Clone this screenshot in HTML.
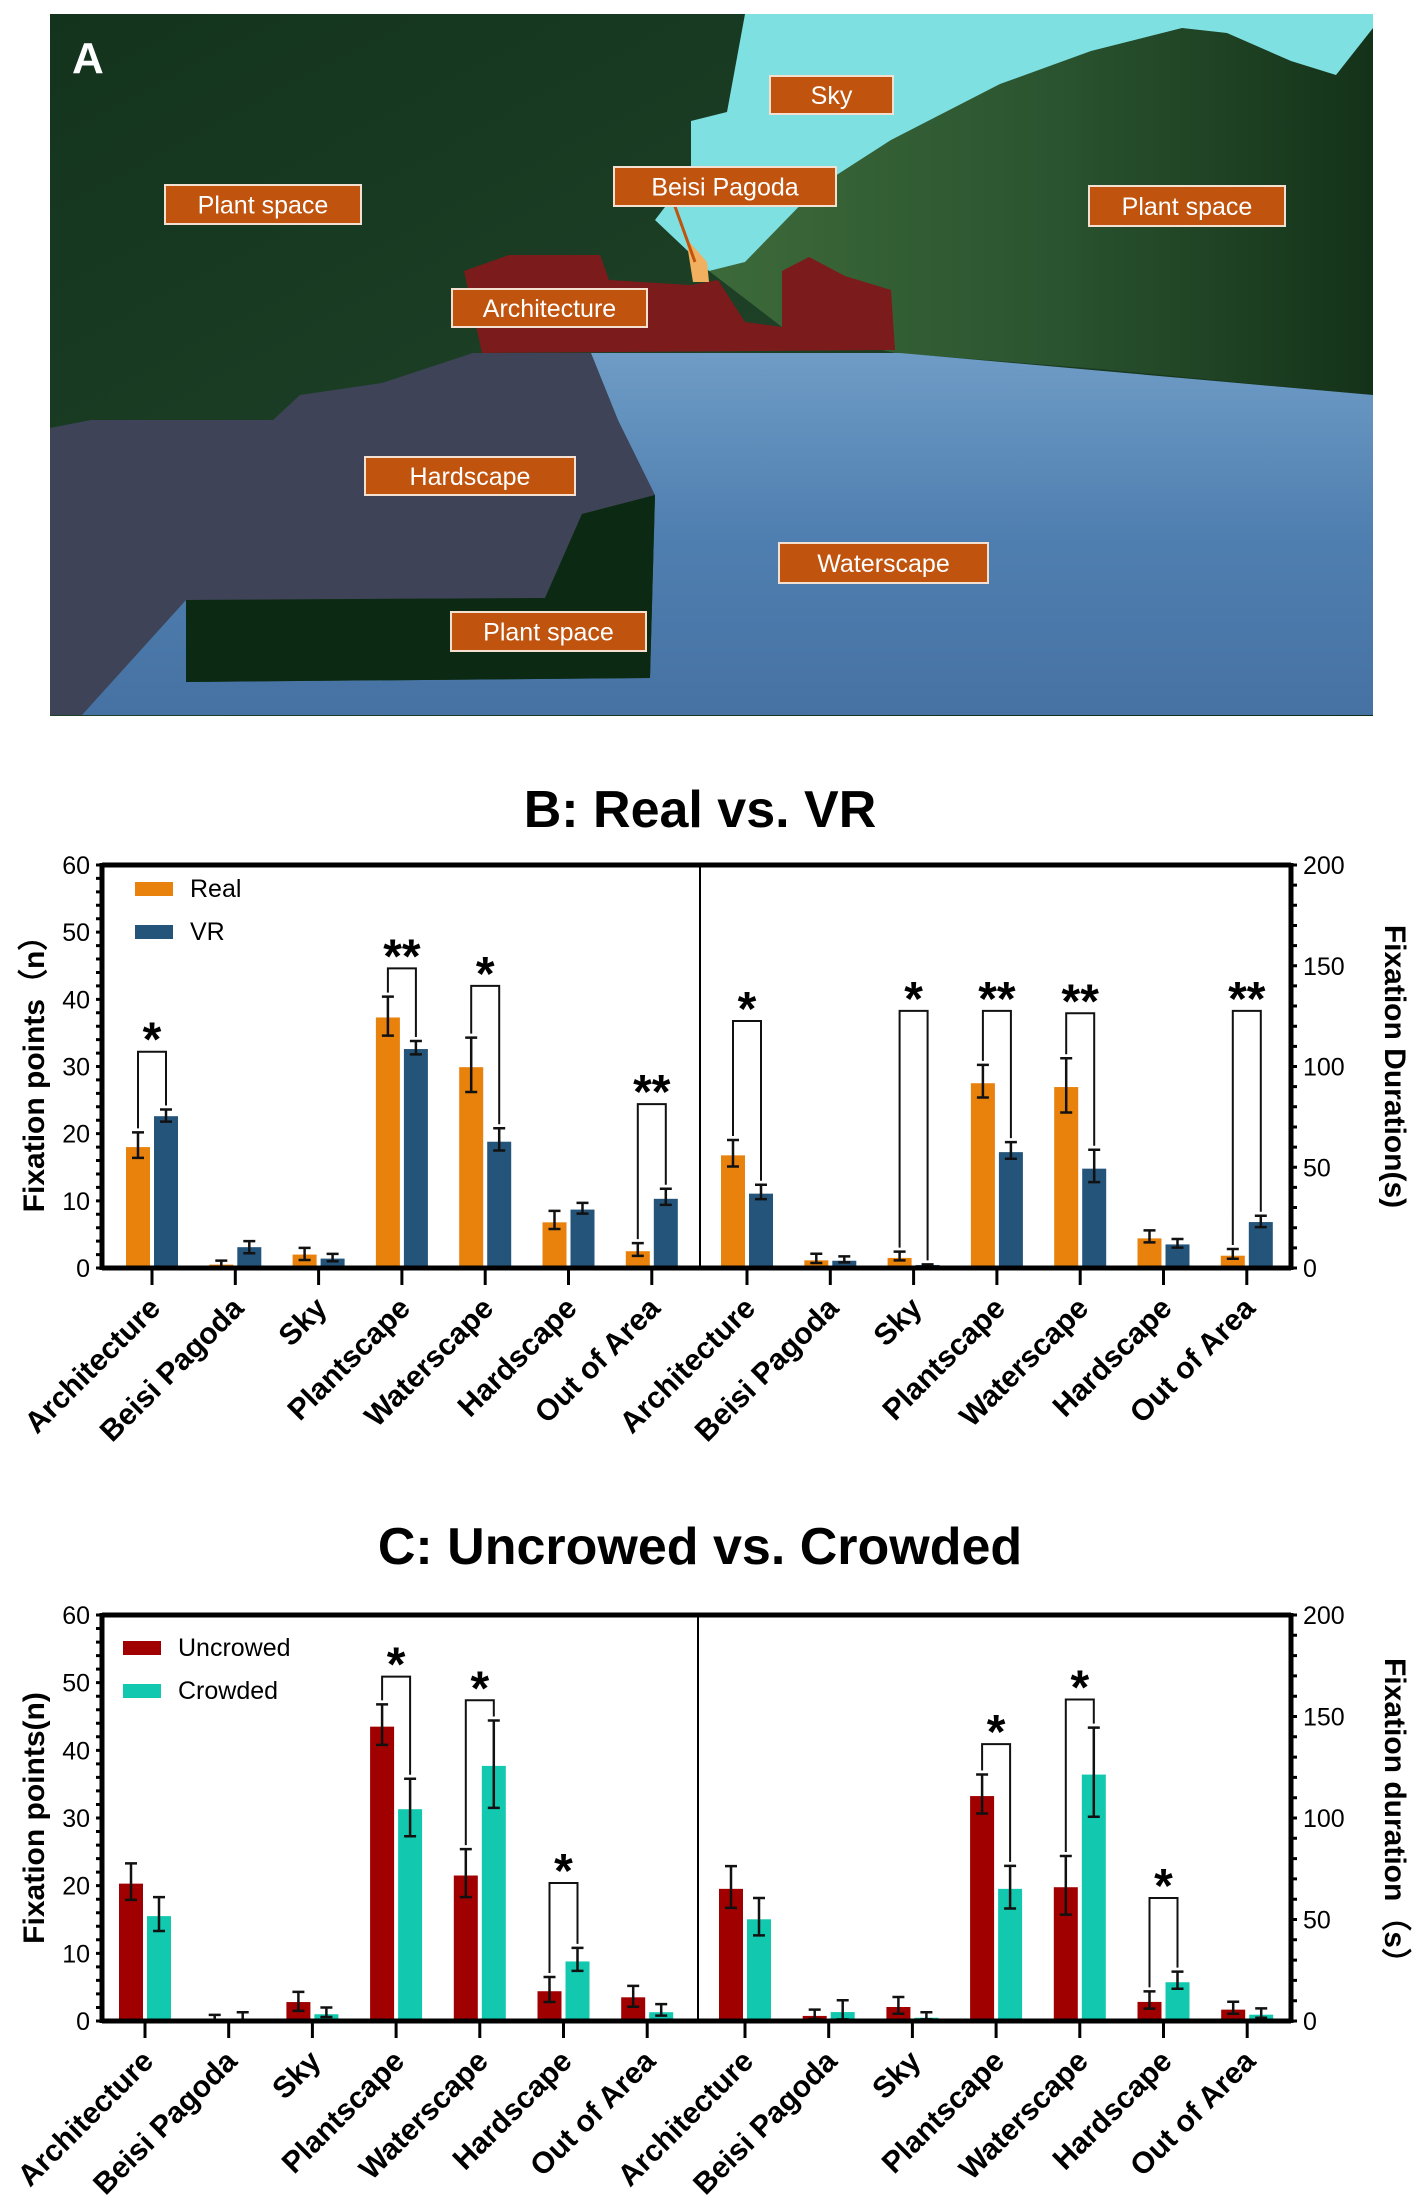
<!DOCTYPE html>
<html><head><meta charset="utf-8">
<style>
html,body{margin:0;padding:0;background:#fff;}
svg{display:block;font-family:"Liberation Sans",Arial,sans-serif;}
</style></head>
<body>
<svg id="fig" width="1418" height="2212" viewBox="0 0 1418 2212" xmlns="http://www.w3.org/2000/svg">
<defs>
<linearGradient id="leftTrees" x1="0" y1="0" x2="1" y2="1">
<stop offset="0" stop-color="#13331d"/><stop offset="0.5" stop-color="#1d4026"/><stop offset="1" stop-color="#0f2c16"/>
</linearGradient>
<linearGradient id="rightTrees" x1="0" y1="0" x2="1" y2="0">
<stop offset="0" stop-color="#3d6a3a"/><stop offset="0.5" stop-color="#2b5530"/><stop offset="1" stop-color="#143219"/>
</linearGradient>
<linearGradient id="waterG" x1="0" y1="0" x2="0" y2="1">
<stop offset="0" stop-color="#6f9cc6"/><stop offset="0.5" stop-color="#4f7fb0"/><stop offset="1" stop-color="#4672a3"/>
</linearGradient>
</defs>
<g id="photo">
<rect x="50" y="14" width="1323" height="702" fill="url(#leftTrees)"/>
<polygon fill="url(#rightTrees)" points="709,271 745,262 818,187 891,140 1000,84 1091,51 1182,28 1227,33 1291,61 1336,75 1373,28 1373,395 1100,369 895,353 782,327"/>
<polygon fill="#7fe0e2" points="745,14 727,112 691,121 691,173 655,220 709,271 745,262 818,187 891,140 1000,84 1091,51 1182,28 1227,33 1291,61 1336,75 1373,28 1373,14"/>
<polygon fill="#7c1b1b" points="464,271 509,255 600,255 609,280 691,285 718,280 745,322 782,327 782,271 809,257 845,276 891,290 895,350 482,353"/>
<polygon fill="#f0b060" points="686,238 707,262 709,282 693,282"/>
<polygon fill="#3e4358" points="50,428 91,420 273,420 300,395 382,383 473,353 591,353 618,420 655,491 655,495 582,514 545,598 186,600 82,715 50,715"/>
<polygon fill="url(#waterG)" points="591,353 900,353 1373,395 1373,715 82,715 186,600 186,682 650,678 655,495 618,420"/>
<polygon fill="#0c2a13" points="186,600 545,598 582,514 655,495 650,678 186,682"/>
<line x1="673" y1="201" x2="695" y2="262" stroke="#c0530e" stroke-width="3"/>
<text x="72" y="73" font-size="44" font-weight="bold" fill="#fff">A</text>
</g>
<g id="labels"></g>
<g id="chartB"></g>
<g id="chartC"></g>
</svg>
<script>
const NS = "http://www.w3.org/2000/svg";
// ---- Panel A labels ----
const photoLabels = ["Sky","Beisi Pagoda","Plant space","Plant space","Architecture","Hardscape","Waterscape","Plant space"];
const photoBoxes = [[770,76,123,38],[614,167,222,39],[165,185,196,39],[1089,186,196,40],[452,289,195,38],[365,457,210,38],[779,543,209,40],[451,612,195,39]];

// ---- Chart B data ----
const categories = ["Architecture","Beisi Pagoda","Sky","Plantscape","Waterscape","Hardscape","Out of Area"];
const bRealPts = [18.0,0.5,2.0,37.3,29.9,6.8,2.5];
const bRealPtsErrHi = [20.2,1.1,3.0,40.4,34.3,8.5,3.7];
const bRealPtsErrLo = [16.4,0.0,1.2,34.6,26.2,5.8,1.8];
const bVrPts = [22.6,3.1,1.4,32.6,18.8,8.7,10.3];
const bVrPtsErrHi = [23.6,4.0,2.1,33.8,20.8,9.7,11.8];
const bVrPtsErrLo = [21.8,2.2,1.0,31.8,17.5,8.1,9.4];
const bRealDur = [55.9,3.8,5.0,91.7,89.8,14.7,6.1];
const bRealDurErrHi = [63.5,7.1,8.1,100.8,104.1,18.7,9.4];
const bRealDurErrLo = [50.4,2.5,3.8,84.6,77.2,12.7,4.6];
const bVrDur = [36.9,3.6,1.5,57.5,49.3,11.7,22.8];
const bVrDurErrHi = [41.3,5.8,1.8,62.5,58.7,14.4,25.9];
const bVrDurErrLo = [34.2,2.8,0.8,54.2,42.6,10.1,20.3];
const bSigPtsIdx = [0,3,4,6];
const bSigPtsY = [32.2,44.6,42.0,24.4];
const bSigPtsLabel = ["*","**","*","**"];
const bSigDurIdx = [0,2,3,4,6];
const bSigDurY = [122.6,127.6,127.6,126.4,127.6];
const bSigDurLabel = ["*","*","**","**","**"];

// ---- Chart C data ----
const cUncPts = [20.3,0.35,2.8,43.5,21.5,4.4,3.5];
const cUncPtsErrHi = [23.3,0.9,4.3,46.8,25.4,6.5,5.2];
const cUncPtsErrLo = [17.9,0.0,1.5,40.8,18.3,2.8,2.1];
const cCrdPts = [15.5,0.35,1.0,31.3,37.7,8.8,1.3];
const cCrdPtsErrHi = [18.3,1.3,2.0,35.8,44.4,10.8,2.5];
const cCrdPtsErrLo = [13.3,0.0,0.6,27.3,31.5,7.4,0.8];
const cUncDur = [65.1,2.5,6.9,110.8,65.9,9.4,5.6];
const cUncDurErrHi = [76.3,5.6,11.8,121.4,81.3,14.6,9.5];
const cUncDurErrLo = [55.7,1.0,3.6,102.2,52.4,6.1,3.6];
const cCrdDur = [50.1,4.4,1.6,65.1,121.4,19.1,3.1];
const cCrdDurErrHi = [60.6,10.2,4.3,76.4,144.5,24.3,6.2];
const cCrdDurErrLo = [42.2,0.8,0.8,55.4,100.6,15.9,1.6];
const cSigPtsIdx = [3,4,5];
const cSigPtsY = [50.9,47.4,20.4];
const cSigPtsLabel = ["*","*","*"];
const cSigDurIdx = [3,4,5];
const cSigDurY = [136.4,158.4,60.6];
const cSigDurLabel = ["*","*","*"];

const leftTicks = [0,10,20,30,40,50,60];
const rightTicks = [0,50,100,150,200];

function mk(tag, attrs, parent){
  const e = document.createElementNS(NS, tag);
  for (const k in attrs) e.setAttribute(k, attrs[k]);
  parent.appendChild(e);
  return e;
}

// Panel A labels
const lg = document.getElementById("labels");
photoLabels.forEach((t,i)=>{
  const b = photoBoxes[i];
  const r = mk("rect",{x:b[0],y:b[1],width:b[2],height:b[3],fill:"#c0530e",stroke:"#f3e0d0","stroke-width":2},lg);
  
  
  const tx = mk("text",{x:b[0]+b[2]/2,y:b[1]+b[3]/2+9,"text-anchor":"middle","font-size":25,fill:"#fff"},lg);
  tx.textContent = t;
  
  
});

function drawChart(g, cfg){
  const {x0,xm,x1,yB,yT,lStart,rStart,step} = cfg;
  const yL = v => yB - (yB-yT)*v/60;
  const yR = v => yB - (yB-yT)*v/200;
  const tickX = (i, side) => (side===0 ? lStart : rStart) + i*step;

  const title = mk("text",{x:700,y:cfg.titleY,"text-anchor":"middle","font-size":52,"font-weight":"bold"},g);
  title.textContent = cfg.title;
  
  

  function series(side, vals, hi, lo, color, off, name){
    const yf = side===0 ? yL : yR;
    vals.forEach((v,i)=>{
      const cx = tickX(i,side)+off;
      const r = mk("rect",{x:cx-12,y:yf(v),width:24,height:yB-yf(v),fill:color},g);
      
      
      const e = mk("path",{d:`M${cx},${yf(hi[i])}V${yf(lo[i])}M${cx-6},${yf(hi[i])}H${cx+6}M${cx-6},${yf(lo[i])}H${cx+6}`,stroke:"#111","stroke-width":2.5,fill:"none"},g);
      
      
    });
  }
  series(0, cfg.aPts, cfg.aPtsHi, cfg.aPtsLo, cfg.colA, -14, cfg.nameA+'-points');
  series(0, cfg.bPts, cfg.bPtsHi, cfg.bPtsLo, cfg.colB, 14, cfg.nameB+'-points');
  series(1, cfg.aDur, cfg.aDurHi, cfg.aDurLo, cfg.colA, -14, cfg.nameA+'-duration');
  series(1, cfg.bDur, cfg.bDurHi, cfg.bDurLo, cfg.colB, 14, cfg.nameB+'-duration');

  function sig(side, idx, ys, labs, aHi, bHi){
    const yf = side===0 ? yL : yR;
    idx.forEach((i,k)=>{
      const xa = tickX(i,side)-14, xb = tickX(i,side)+14, yy = yf(ys[k]);
      const p = mk("path",{d:`M${xa},${yf(aHi[i])-4}V${yy}H${xb}V${yf(bHi[i])-4}`,stroke:"#111","stroke-width":2,fill:"none"},g);
      
      
      const t = mk("text",{x:(xa+xb)/2,y:yy+4,"text-anchor":"middle","font-size":48,"font-weight":"bold"},g);
      t.textContent = labs[k];
      
      
    });
  }
  sig(0, cfg.sigPI, cfg.sigPY, cfg.sigPL, cfg.aPtsHi, cfg.bPtsHi);
  sig(1, cfg.sigDI, cfg.sigDY, cfg.sigDL, cfg.aDurHi, cfg.bDurHi);

  const fr = mk("path",{d:`M${x0},${yT}H${x1}M${x0},${yB}H${x1}M${x0},${yT-2}V${yB+2}M${x1},${yT-2}V${yB+2}`,stroke:"#000","stroke-width":5,fill:"none"},g);
  
  
  const dv = mk("line",{x1:xm,y1:yT,x2:xm,y2:yB,stroke:"#000","stroke-width":2},g);
  
  

  let md = "";
  for (let v=0; v<=60; v+=2) md += `M${x0-6},${yL(v)}H${x0}`;
  for (let v=0; v<=200; v+=10) md += `M${x1},${yR(v)}H${x1+6}`;
  const mt = mk("path",{d:md,stroke:"#000","stroke-width":3},g);
  
  

  leftTicks.forEach(v=>{
    const t = mk("text",{x:x0-12,y:yL(v)+9,"text-anchor":"end","font-size":25},g);
    t.textContent = v;
    
    
  });
  rightTicks.forEach(v=>{
    const t = mk("text",{x:x1+12,y:yR(v)+9,"text-anchor":"start","font-size":25},g);
    t.textContent = v;
    
    
  });

  [0,1].forEach(side=>{
    categories.forEach((c,i)=>{
      const x = tickX(i,side);
      const tk = mk("line",{x1:x,y1:yB,x2:x,y2:yB+17,stroke:"#000","stroke-width":3},g);
      
      
      const t = mk("text",{x:x+10,y:yB+42,"text-anchor":"end","font-size":30,"font-weight":"bold",transform:`rotate(-45 ${x+10} ${yB+42})`},g);
      t.textContent = c;
      
      
    });
  });

  const ym = (yT+yB)/2;
  const lt = mk("text",{x:44,y:ym,"text-anchor":"middle","font-size":30,"font-weight":"bold",transform:`rotate(-90 44 ${ym})`},g);
  lt.textContent = cfg.leftTitle;
  
  
  const rt = mk("text",{x:1385,y:ym,"text-anchor":"middle","font-size":30,"font-weight":"bold",transform:`rotate(90 1385 ${ym})`},g);
  rt.textContent = cfg.rightTitle;
  
  

  [[cfg.colA,cfg.legA],[cfg.colB,cfg.legB]].forEach((l,k)=>{
    const ly = cfg.legY + k*43;
    const r = mk("rect",{x:cfg.legX,y:ly,width:38,height:14,fill:l[0]},g);
    
    
    const t = mk("text",{x:cfg.legX+55,y:ly+15,"font-size":25},g);
    t.textContent = l[1];
    
    
  });
}

drawChart(document.getElementById("chartB"),{
  x0:102,xm:700,x1:1291,yB:1268,yT:865,lStart:152,rStart:747,step:83.3,
  title:"B: Real vs. VR",titleY:827,
  colA:"#e8820c",colB:"#24547a",nameA:"real",nameB:"vr",legA:"Real",legB:"VR",legX:135,legY:882,
  aPts:bRealPts,aPtsHi:bRealPtsErrHi,aPtsLo:bRealPtsErrLo,
  bPts:bVrPts,bPtsHi:bVrPtsErrHi,bPtsLo:bVrPtsErrLo,
  aDur:bRealDur,aDurHi:bRealDurErrHi,aDurLo:bRealDurErrLo,
  bDur:bVrDur,bDurHi:bVrDurErrHi,bDurLo:bVrDurErrLo,
  sigPI:bSigPtsIdx,sigPY:bSigPtsY,sigPL:bSigPtsLabel,
  sigDI:bSigDurIdx,sigDY:bSigDurY,sigDL:bSigDurLabel,
  leftTitle:"Fixation points（n）",rightTitle:"Fixation Duration(s)"
});
drawChart(document.getElementById("chartC"),{
  x0:102,xm:698,x1:1291,yB:2021,yT:1615,lStart:145,rStart:745,step:83.7,
  title:"C: Uncrowed vs. Crowded",titleY:1564,
  colA:"#a00000",colB:"#12c9b0",nameA:"uncrowed",nameB:"crowded",legA:"Uncrowed",legB:"Crowded",legX:123,legY:1641,
  aPts:cUncPts,aPtsHi:cUncPtsErrHi,aPtsLo:cUncPtsErrLo,
  bPts:cCrdPts,bPtsHi:cCrdPtsErrHi,bPtsLo:cCrdPtsErrLo,
  aDur:cUncDur,aDurHi:cUncDurErrHi,aDurLo:cUncDurErrLo,
  bDur:cCrdDur,bDurHi:cCrdDurErrHi,bDurLo:cCrdDurErrLo,
  sigPI:cSigPtsIdx,sigPY:cSigPtsY,sigPL:cSigPtsLabel,
  sigDI:cSigDurIdx,sigDY:cSigDurY,sigDL:cSigDurLabel,
  leftTitle:"Fixation points(n)",rightTitle:"Fixation duration（s）"
});
</script>
</body></html>
